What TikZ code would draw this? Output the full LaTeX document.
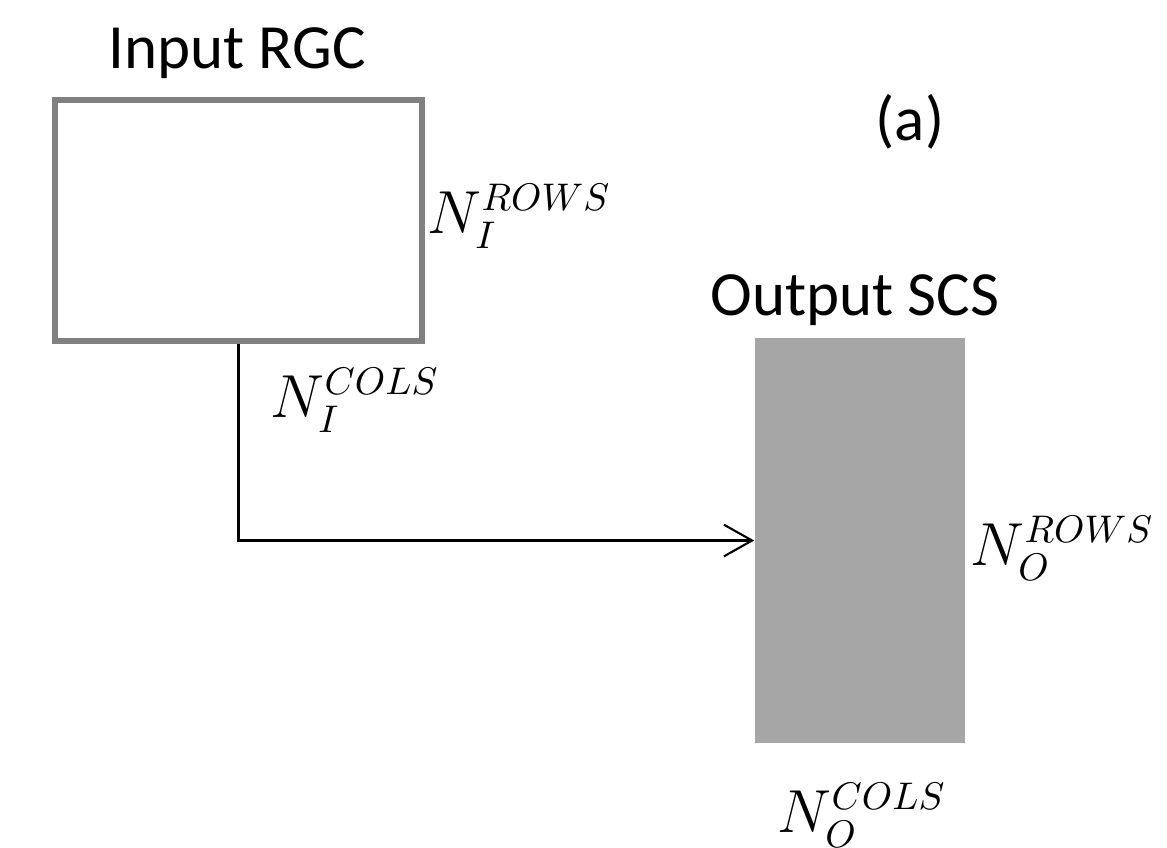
\documentclass[tikz,border=0pt]{standalone}
\usepackage{fontspec}
\setmainfont{Carlito}
\usetikzlibrary{arrows.meta}
\tikzset{
  title/.style={inner sep=0pt, anchor=base, font=\fontsize{17.9pt}{20pt}\selectfont},
  dimlabel/.style={inner sep=0pt, anchor=base west, font=\fontsize{16pt}{18pt}\selectfont},
  inbox/.style={draw=black!50, line width=1.7pt, fill=white, minimum width=3.67cm, minimum height=2.41cm, inner sep=0pt},
  outbox/.style={fill=black!35, draw=none, minimum width=2.10cm, minimum height=4.05cm, inner sep=0pt},
  flow/.style={draw=black, line width=0.6pt, -{Straight Barb[length=8pt,width=9pt]}}
}
\begin{document}
\begin{tikzpicture}[x=0.01cm, y=-0.01cm]
\useasboundingbox (0,0) rectangle (1167,847);
\node[inbox] (in) at (238.5,220.5) {};
\node[outbox] (out) at (860,540.5) {};
\node[title] (intitle) at (237,68) {Input RGC};
\node[title] (outtitle) at (855,315) {Output SCS};
\node[title] (tag) at (910,140) {(a)};
\node[dimlabel] (inrows) at (427,233) {$N_I^{ROWS}$};
\node[dimlabel] (incols) at (270,417) {$N_I^{COLS}$};
\node[dimlabel] (outrows) at (970,565) {$N_O^{ROWS}$};
\node[dimlabel] (outcols) at (777,832) {$N_O^{COLS}$};
\draw[flow] (in.south) |- (out.west);
\end{tikzpicture}
\end{document}
